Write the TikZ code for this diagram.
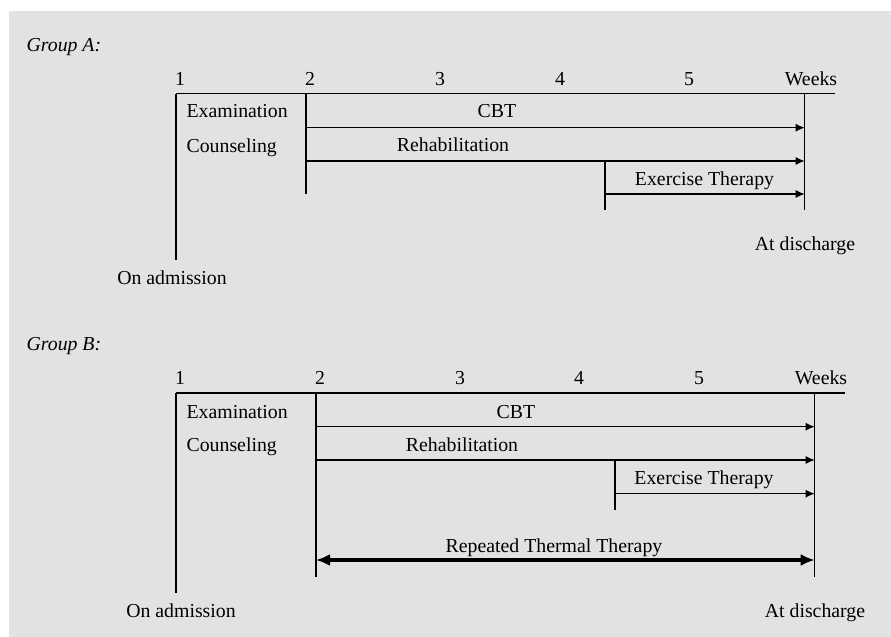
\documentclass[tikz,border=0pt]{standalone}
\usepackage{fontspec}
\setmainfont{Liberation Serif}
\usepackage{tikz}
\usetikzlibrary{arrows.meta}

\definecolor{panelgray}{RGB}{225,226,228}

\begin{document}
\begin{tikzpicture}[x=0.5pt, y=-0.5pt, line width=0.6pt,
    lbl/.style = {font=\fontsize{9.9}{12}\selectfont, inner sep=0pt, anchor=base},
    lft/.style = {lbl, anchor=base west},
    grp/.style = {lft, font=\fontsize{9.9}{12}\selectfont\itshape},
    span/.style = {-{Latex[length=4.5pt,width=4pt]}},
    thermal/.style = {{Latex[length=7pt,width=6pt]}-{Latex[length=7pt,width=6pt]}, line width=2pt}]

    \useasboundingbox (0,0) rectangle (891,637);
    \fill [panelgray] (9,11) rectangle (891,637);

    % Group A
    \node [grp] (gA) at (26,51) {Group A:};
    \foreach \n/\x in {1/180, 2/310, 3/440, 4/560, 5/689}
        \node [lbl] (a\n) at (\x,85) {\n};
    \node [lbl] (aW) at (811,85) {Weeks};

    \coordinate (aT0) at (176,93.7);
    \coordinate (aT1) at (835,93.7);
    \coordinate (aAdm) at (176,260);
    \coordinate (aS0) at (306,93.7);
    \coordinate (aS1) at (306,194);
    \coordinate (aD0) at (804.7,93.7);
    \coordinate (aD1) at (804.7,210);
    \coordinate (aCbt0) at (306,127.7);
    \coordinate (aCbt1) at (804.7,127.7);
    \coordinate (aReh0) at (306,161);
    \coordinate (aReh1) at (804.7,161);
    \coordinate (aEx0) at (605,161);
    \coordinate (aEx1) at (605,210);
    \coordinate (aExS) at (605,194);
    \coordinate (aExE) at (804.7,194);

    \node [lft] (aExam) at (186,118) {Examination};
    \node [lft] (aCoun) at (186,152) {Counseling};
    \node [lbl] (aCbt) at (497,118) {CBT};
    \node [lbl] (aReh) at (453,151) {Rehabilitation};
    \node [lbl] (aEx) at (704.5,185) {Exercise Therapy};
    \node [lbl] (aDis) at (805,250) {At discharge};
    \node [lbl] (aAdmT) at (172,284) {On admission};

    \draw (aT0) -- (aT1);
    \draw (aT0) -- (aAdm);
    \draw (aS0) -- (aS1);
    \draw (aD0) -- (aD1);
    \draw (aEx0) -- (aEx1);
    \draw [span] (aCbt0) -- (aCbt1);
    \draw [span] (aReh0) -- (aReh1);
    \draw [span] (aExS) -- (aExE);

    % Group B
    \node [grp] (gB) at (26,350) {Group B:};
    \foreach \n/\x in {1/180, 2/320, 3/460, 4/579, 5/699}
        \node [lbl] (b\n) at (\x,384) {\n};
    \node [lbl] (bW) at (821,384) {Weeks};

    \coordinate (bT0) at (176,393);
    \coordinate (bT1) at (845,393);
    \coordinate (bAdm) at (176,593);
    \coordinate (bS0) at (316,393);
    \coordinate (bS1) at (316,577);
    \coordinate (bD0) at (814.7,393);
    \coordinate (bD1) at (814.7,577);
    \coordinate (bCbt0) at (316,426.7);
    \coordinate (bCbt1) at (814.7,426.7);
    \coordinate (bReh0) at (316,460);
    \coordinate (bReh1) at (814.7,460);
    \coordinate (bEx0) at (615,460);
    \coordinate (bEx1) at (615,510);
    \coordinate (bExS) at (615,493.7);
    \coordinate (bExE) at (814.7,493.7);
    \coordinate (bRtt0) at (316,560);
    \coordinate (bRtt1) at (814.7,560);

    \node [lft] (bExam) at (186,418) {Examination};
    \node [lft] (bCoun) at (186,451) {Counseling};
    \node [lbl] (bCbt) at (516,418) {CBT};
    \node [lbl] (bReh) at (462,451) {Rehabilitation};
    \node [lbl] (bEx) at (704,484) {Exercise Therapy};
    \node [lbl] (bRtt) at (554,552) {Repeated Thermal Therapy};
    \node [lbl] (bDis) at (815,617) {At discharge};
    \node [lbl] (bAdmT) at (181,617) {On admission};

    \draw (bT0) -- (bT1);
    \draw (bT0) -- (bAdm);
    \draw (bS0) -- (bS1);
    \draw (bD0) -- (bD1);
    \draw (bEx0) -- (bEx1);
    \draw [span] (bCbt0) -- (bCbt1);
    \draw [span] (bReh0) -- (bReh1);
    \draw [span] (bExS) -- (bExE);
    \draw [thermal] (bRtt0) -- (bRtt1);

\end{tikzpicture}
\end{document}
